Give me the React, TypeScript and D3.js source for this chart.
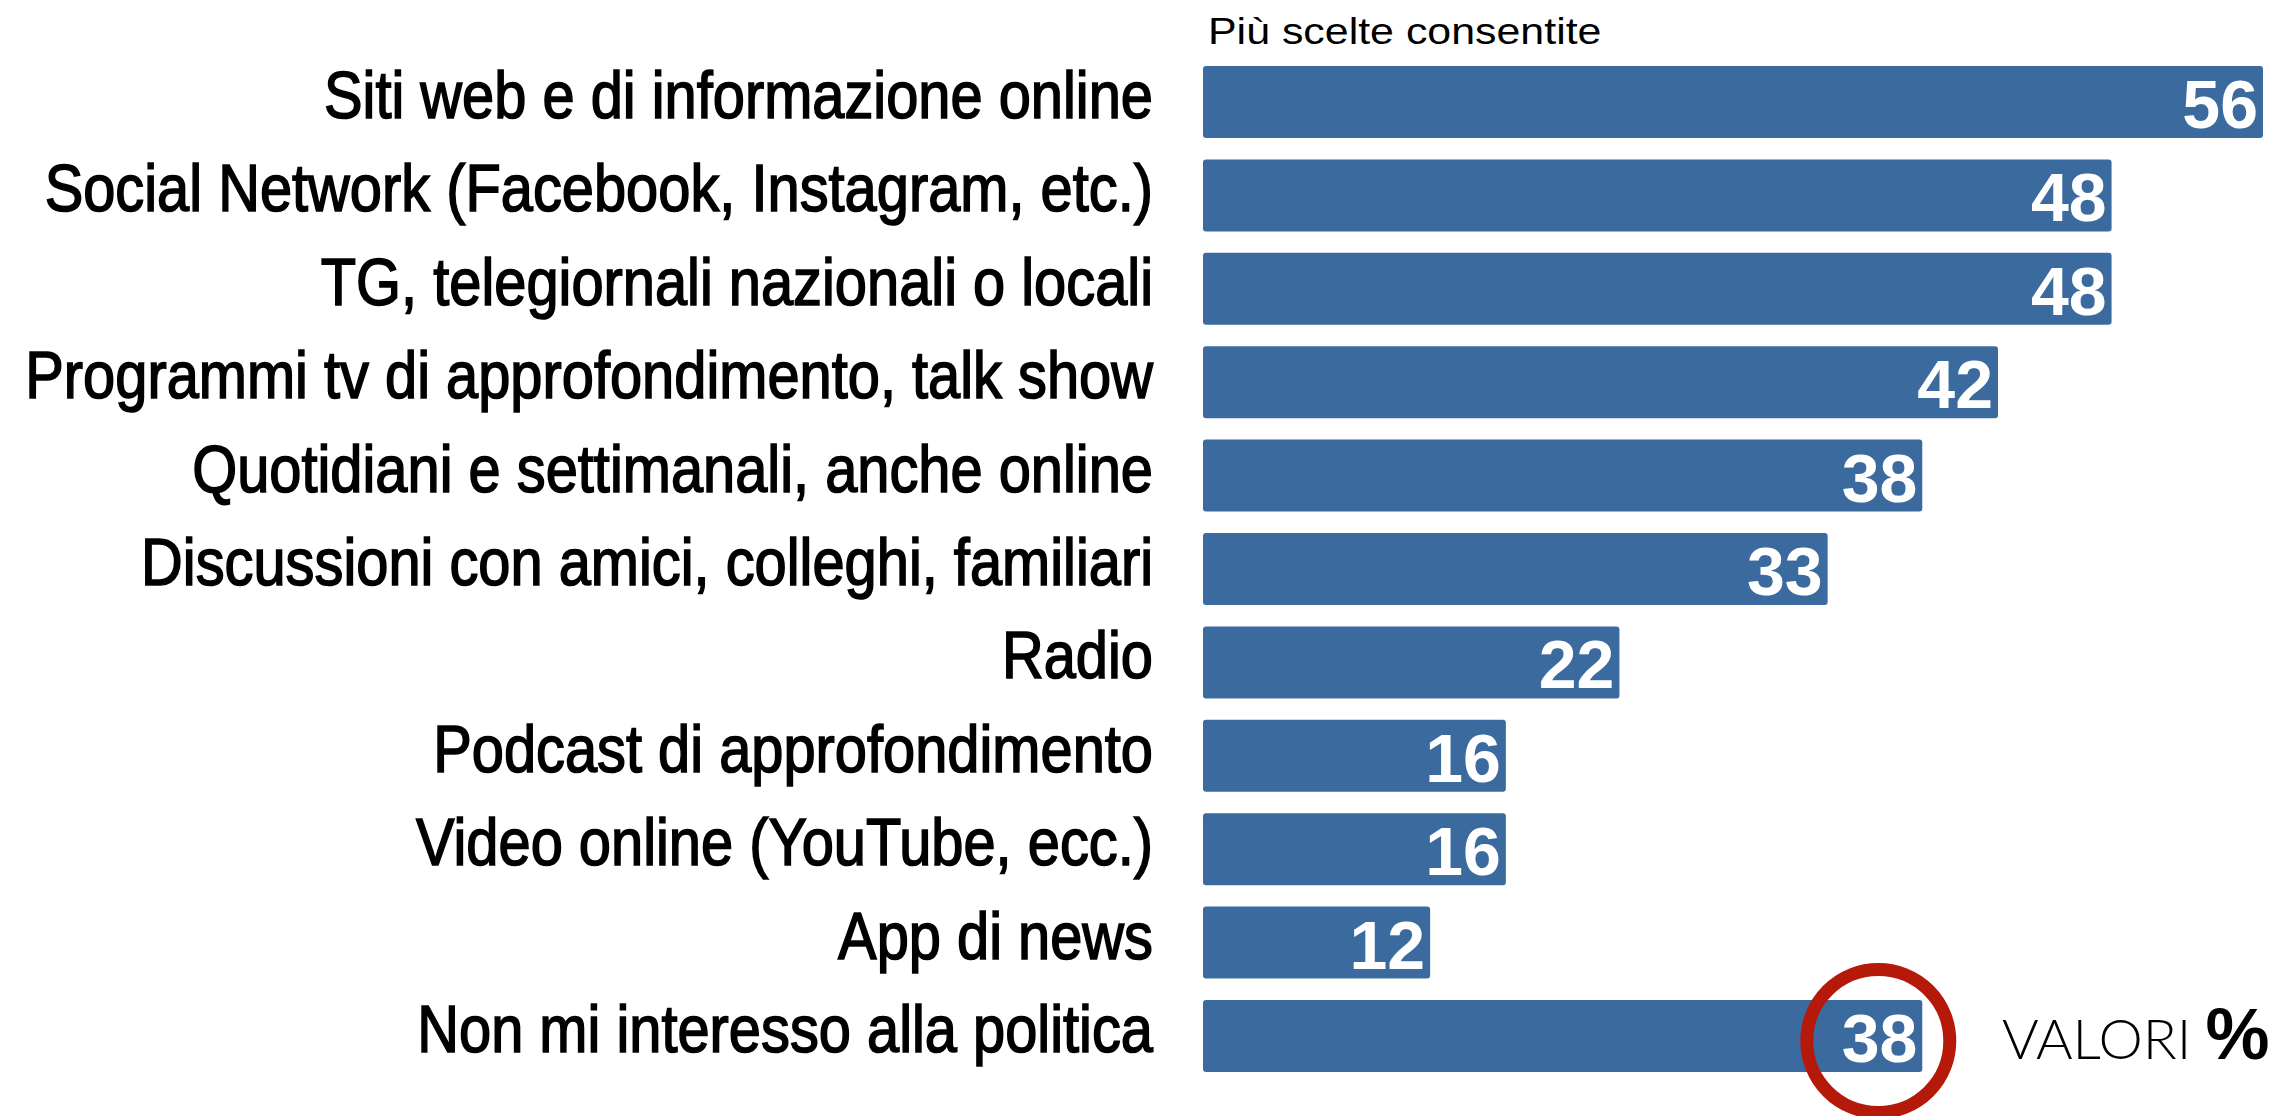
import React from "react";
import * as d3 from "d3";

const categories: string[] = [
  "Siti web e di informazione online",
  "Social Network (Facebook, Instagram, etc.)",
  "TG, telegiornali nazionali o locali",
  "Programmi tv di approfondimento, talk show",
  "Quotidiani e settimanali, anche online",
  "Discussioni con amici, colleghi, familiari",
  "Radio",
  "Podcast di approfondimento",
  "Video online (YouTube, ecc.)",
  "App di news",
  "Non mi interesso alla politica",
];

const values: number[] = [56, 48, 48, 42, 38, 33, 22, 16, 16, 12, 38];

const highlighted: string[] = ["Non mi interesso alla politica"];

const subtitle = "Più scelte consentite";
const unitLabel = "VALORI";
const unitSymbol = "%";

const W = 2280;
const H = 1116;

export default function App() {
  const x = d3.scaleLinear().domain([0, 56]).range([1203, 2263]);
  const y = d3
    .scaleBand<string>()
    .domain(categories)
    .range([66, 1072])
    .paddingInner(0.229)
    .paddingOuter(0);
  const bw = y.bandwidth();
  const barColor = "#3b6b9e";

  return (
    <svg
      width={W}
      height={H}
      style={{ position: "absolute", left: 0, top: 0, background: "#fff" }}
    >
      <text
        transform="translate(1208,44) scale(1.16,1)"
        fontFamily="'Liberation Sans', Arial, sans-serif"
        fontSize={37}
        fill="#000"
      >
        {subtitle}
      </text>
      {categories.map((c, i) => {
        const y0 = y(c)!;
        const x1 = x(values[i]);
        return (
          <g key={c}>
            <rect
              x={x(0)}
              y={y0}
              width={x1 - x(0)}
              height={bw}
              rx={3}
              ry={3}
              fill={barColor}
            />
            <text
              transform={`translate(1153,${y0 + bw / 2 + 16}) scale(0.876,1)`}
              textAnchor="end"
              fontFamily="'Liberation Sans', Arial, sans-serif"
              fontSize={66}
              fill="#000"
              stroke="#000"
              strokeWidth={1.6}
            >
              {c}
            </text>
            <text
              x={x1 - 5}
              y={y0 + 62}
              textAnchor="end"
              fontFamily="'Liberation Sans', Arial, sans-serif"
              fontWeight="bold"
              fontSize={68}
              fill="#fff"
            >
              {values[i]}
            </text>
            {highlighted.includes(c) && (
              <circle
                cx={x1 - 44}
                cy={y0 + bw / 2 + 5}
                r={71.5}
                fill="none"
                stroke="#b5190a"
                strokeWidth={13}
              />
            )}
          </g>
        );
      })}
      <text
        x={2002}
        y={1059}
        fontFamily="Lato, 'Open Sans', sans-serif"
        fontWeight={300}
        fontSize={56}
        fill="#000"
      >
        {unitLabel}
        <tspan
          dx={14}
          fontFamily="'Liberation Sans', Arial, sans-serif"
          fontWeight="bold"
          fontSize={72}
        >
          {unitSymbol}
        </tspan>
      </text>
    </svg>
  );
}
